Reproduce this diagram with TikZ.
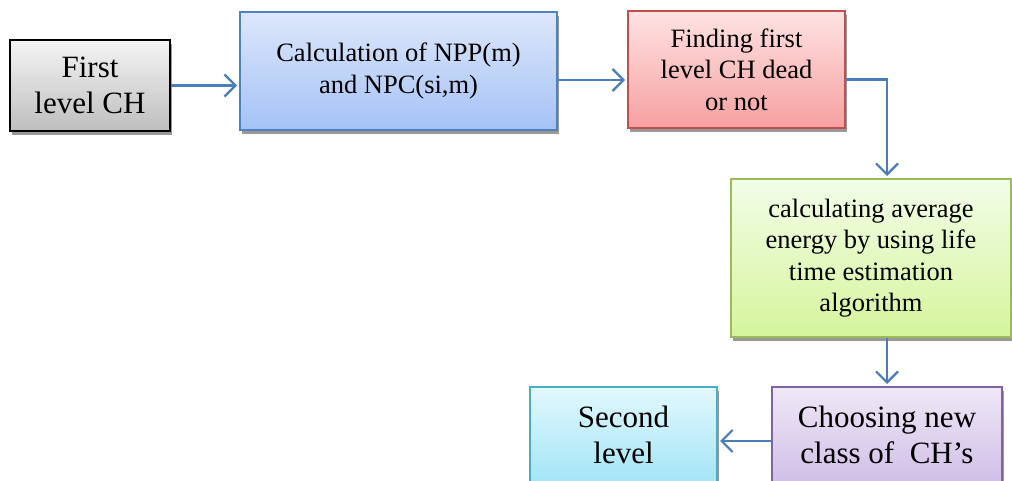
\documentclass[tikz,border=0pt]{standalone}
\usepackage{fontspec}
\setmainfont{Liberation Serif}
\usetikzlibrary{arrows.meta,shadows,calc}
\definecolor{arrowblue}{HTML}{4A7EBB}
\definecolor{grayT}{HTML}{F4F4F4}\definecolor{grayB}{HTML}{BEBEBE}
\definecolor{blueT}{HTML}{DDE7FB}\definecolor{blueB}{HTML}{A5C2F6}\definecolor{blueD}{HTML}{4F81BD}
\definecolor{redT}{HTML}{FFE3E3}\definecolor{redB}{HTML}{F6A0A0}\definecolor{redD}{HTML}{C0504D}
\definecolor{greenT}{HTML}{F3FDE8}\definecolor{greenB}{HTML}{D5F59C}\definecolor{greenD}{HTML}{9BBB59}
\definecolor{cyanT}{HTML}{E2F8FD}\definecolor{cyanB}{HTML}{A3E5F7}\definecolor{cyanD}{HTML}{4BACC6}
\definecolor{purpT}{HTML}{EEE8F6}\definecolor{purpB}{HTML}{D1BFE8}\definecolor{purpD}{HTML}{8064A2}
\tikzset{
  box/.style={rectangle, line width=2pt, align=center, inner sep=2pt,
    drop shadow={shadow xshift=2pt, shadow yshift=-4pt, fill=black!40, opacity=1}},
  bigtext/.style={font=\fontsize{31}{36}\selectfont},
  smalltext/.style={font=\fontsize{26.5}{31.5}\selectfont},
  flow/.style={draw=arrowblue, line width=2.2pt, line join=miter, -{Straight Barb[length=11pt,width=22pt,line width=2.2pt]}, shorten >=2pt}
}
\begin{document}
\begin{tikzpicture}[x=1pt,y=-1pt]
\useasboundingbox (0,0) rectangle (1012,481);
\node[box, bigtext, draw=black, top color=grayT, bottom color=grayB,
  minimum width=160pt, minimum height=91pt] (b1) at (90,85.5) {First\\level CH};
\node[box, smalltext, draw=blueD, top color=blueT, bottom color=blueB,
  minimum width=317pt, minimum height=118pt] (b2) at (398.5,71) {Calculation of NPP(m)\\and NPC(si,m)};
\node[box, smalltext, draw=redD, top color=redT, bottom color=redB,
  minimum width=217pt, minimum height=117pt] (b3) at (736.5,69.5) {Finding first\\level CH dead\\or not};
\node[box, smalltext, draw=greenD, top color=greenT, bottom color=greenB,
  minimum width=280pt, minimum height=158pt] (b4) at (871,258) {calculating average\\energy by using life\\time estimation\\algorithm};
\node[box, bigtext, draw=cyanD, top color=cyanT, bottom color=cyanB,
  minimum width=187pt, minimum height=96pt] (b5) at (623.5,435) {Second\\level};
\node[box, bigtext, draw=purpD, top color=purpT, bottom color=purpB,
  minimum width=230pt, minimum height=96pt] (b6) at (887,435) {Choosing new\\class of\ \ CH’s};
\draw[flow] (b1.east) -- (b1.east -| b2.west);
\draw[flow] ([yshift=-9pt]b2.east) -- ([yshift=-9pt]b2.east -| b3.west);
\draw[flow] ([yshift=-10pt]b3.east) -| ([xshift=16pt]b4.north);
\draw[flow] (b4.south -| b6.north) -- (b6.north);
\draw[flow] ([yshift=-6pt]b6.west) -- ([yshift=-6pt]b6.west -| b5.east);
\end{tikzpicture}
\end{document}
